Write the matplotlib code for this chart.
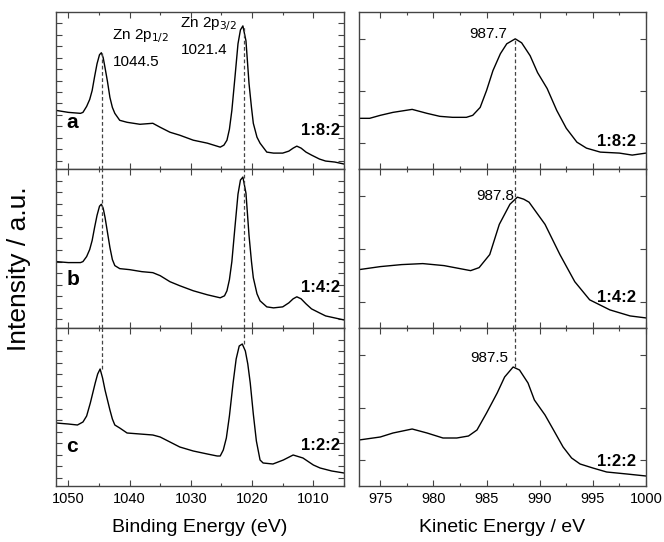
import matplotlib
matplotlib.use("Agg")
import matplotlib.pyplot as plt
from matplotlib.ticker import MultipleLocator, FixedLocator
import numpy as np

plt.rcParams['font.family'] = ['Liberation Sans', 'DejaVu Sans']

# Zn 2p spectra (binding energy / eV, intensity in arbitrary units)
be_a = [1052, 1050, 1048, 1047.6, 1047, 1046.5, 1046.1, 1045.7, 1045.3, 1044.9, 1044.6, 1044.3,
        1044.0, 1043.6, 1043.2, 1042.8, 1042.4, 1041.6, 1040.4, 1038.3, 1036.2, 1035, 1033.4,
        1031.8, 1029.6, 1027.3, 1025.2, 1024.6, 1024.1, 1023.7, 1023.3, 1022.8, 1022.3, 1021.9,
        1021.5, 1021.0, 1020.5, 1020.1, 1019.8, 1019.2, 1018.7, 1017.6, 1016.5, 1015, 1014,
        1013.3, 1012.7, 1012, 1011.2, 1010.3, 1009, 1008, 1006.5, 1005]
int_a = [59, 57, 56, 57, 63, 70, 79, 93, 106, 115, 117, 112,
         102, 88, 72, 62, 56, 49, 47, 45, 46, 42, 37,
         34, 29, 26, 22, 24, 29, 40, 59, 92, 126, 140,
         144, 129, 86, 62, 46, 32, 26, 17, 16, 16, 18,
         21, 23, 21, 17, 14, 10, 8, 7, 5]

be_b = [1052, 1050, 1048, 1047.6, 1047, 1046.5, 1046.1, 1045.7, 1045.3, 1044.9, 1044.6, 1044.3,
        1044.0, 1043.6, 1043.2, 1042.8, 1042.4, 1041.6, 1040, 1038, 1036.2, 1035, 1033.4,
        1031.8, 1029.6, 1027.3, 1025.2, 1024.5, 1024.1, 1023.7, 1023.3, 1022.8, 1022.3, 1021.9,
        1021.5, 1021.0, 1020.5, 1020.1, 1019.8, 1019.2, 1018.7, 1017.6, 1016.5, 1015, 1014,
        1013.3, 1012.7, 1012, 1011.2, 1010.3, 1009, 1008, 1006.5, 1005]
int_b = [66, 65, 65, 66, 71, 78, 87, 100, 112, 121, 123, 119,
         110, 95, 80, 68, 62, 59, 58, 56, 55, 52, 46,
         42, 37, 33, 30, 32, 37, 48, 66, 100, 133, 147,
         150, 134, 92, 66, 50, 34, 27, 21, 20, 21, 25,
         29, 31, 29, 24, 19, 15, 12, 10, 8]

be_c = [1052, 1050, 1048.5, 1047.6, 1047, 1046.4, 1046, 1045.6, 1045.2, 1044.8, 1044.4, 1044.0,
        1043.6, 1043.2, 1042.8, 1042.4, 1041.6, 1040.4, 1038.3, 1036.2, 1035, 1033.4, 1031.8,
        1029.6, 1027.3, 1025.7, 1025.2, 1024.7, 1024.2, 1023.7, 1023.1, 1022.6, 1022.1, 1021.6,
        1021.1, 1020.7, 1020.3, 1019.8, 1019.3, 1018.7, 1018.2, 1016.6, 1014.9, 1013.3, 1011.7,
        1010, 1008.9, 1007, 1005]
int_c = [63, 62, 61, 64, 70, 83, 93, 103, 112, 117, 108, 96,
         86, 76, 67, 61, 58, 53, 52, 51, 49, 44, 39,
         35, 32, 30, 30, 36, 48, 70, 103, 127, 140, 142,
         135, 122, 103, 72, 45, 26, 23, 22, 26, 31, 28,
         21, 18, 15, 13]

# Auger spectra (kinetic energy / eV)
ke_a = [973, 974, 975, 976.2, 978, 979.4, 980.6, 981.8, 983.1, 983.7, 984.4, 985.0, 985.6, 986.3,
        986.9, 987.7, 988.3, 989.1, 989.8, 990.7, 991.6, 992.5, 993.5, 994.4, 995.7, 997.5,
        998.7, 1000]
aug_a = [51, 51, 54, 57, 60, 56, 53, 52, 52, 54, 62, 79, 99, 116,
         126, 131, 127, 114, 97, 81, 59, 41, 27, 21, 17, 16,
         14, 16]

ke_b = [973, 975, 977, 979, 981, 982.5, 983.5, 984.3, 985.3, 986.2, 987.2, 987.9, 988.5, 989,
        990.5, 991.9, 993.3, 994.7, 996.6, 998.5, 1000]
aug_b = [58, 61, 63, 64, 62, 59, 57, 60, 73, 103, 123, 130, 128, 125,
         103, 73, 46, 28, 18, 12, 10]

ke_c = [973, 975, 976.2, 978, 979.4, 980.9, 982.2, 983.3, 984.1, 985, 986, 986.7, 987.5, 988.1,
        988.9, 989.5, 990.5, 991.3, 992.2, 993, 993.8, 995, 996.3, 998.2, 1000]
aug_c = [46, 49, 53, 57, 53, 48, 48, 50, 56, 73, 93, 109, 119, 116,
         103, 86, 71, 56, 39, 28, 22, 18, 14, 12, 10]

ratios = ["1:8:2", "1:4:2", "1:2:2"]
letters = ["a", "b", "c"]
auger_peaks = ["987.7", "987.8", "987.5"]
zn_peaks = [1044.5, 1021.4]
auger_line = 987.7

left_data = [(be_a, int_a), (be_b, int_b), (be_c, int_c)]
right_data = [(ke_a, aug_a), (ke_b, aug_b), (ke_c, aug_c)]

fig = plt.figure(figsize=(6.64, 5.42), dpi=100)
W, H = 664, 542
row_px = [(12, 169), (169, 328), (328, 486)]
spine_col = '#444444'
dash = (0, (3, 2))

axL, axR = [], []
for i, (t, b) in enumerate(row_px):
    aL = fig.add_axes([56 / W, 1 - b / H, 288 / W, (b - t) / H])
    aR = fig.add_axes([359 / W, 1 - b / H, 287 / W, (b - t) / H])
    axL.append(aL)
    axR.append(aR)

for i, ax in enumerate(axL):
    x, y = left_data[i]
    ax.plot(x, y, color='black', lw=1.0)
    ax.set_xlim(1052, 1005)
    ax.set_ylim(0, 158)
    ax.xaxis.set_major_locator(MultipleLocator(10))
    ax.xaxis.set_minor_locator(MultipleLocator(5))
    ax.yaxis.set_major_locator(FixedLocator(np.arange(8.5, 158, 11.5)))
    ax.text(1050.3, [47, 48, 40][i], letters[i], fontsize=15, fontweight='bold', va='center', ha='left')
    ax.text(1005.6, [39, 40, 40][i], ratios[i], fontsize=12, fontweight='bold', va='center', ha='right')
    # dashed guide lines through the Zn 2p peaks
    for e in zn_peaks:
        ix = int(np.argmin(np.abs(np.array(x) - e)))
        ypk = max(y[ix - 1:ix + 2])
        if i == 0:
            ax.plot([e, e], [0, ypk], color=spine_col, lw=0.9, ls=dash)
        elif i == 1:
            ax.plot([e, e], [0, 158], color=spine_col, lw=0.9, ls=dash)
        else:
            ax.plot([e, e], [ypk, 158], color=spine_col, lw=0.9, ls=dash)

for i, ax in enumerate(axR):
    x, y = right_data[i]
    ax.plot(x, y, color='black', lw=1.0)
    ax.set_xlim(973, 1000)
    ax.set_ylim(0, 158)
    ax.xaxis.set_major_locator(MultipleLocator(5))
    ax.xaxis.set_minor_locator(MultipleLocator(2.5))
    ax.yaxis.set_major_locator(FixedLocator([26, 78.5, 131]))
    ax.text(999.1, [28, 30, 25][i], ratios[i], fontsize=12, fontweight='bold', va='center', ha='right')
    ypk = max(y)
    if i == 0:
        ax.plot([auger_line, auger_line], [0, ypk], color=spine_col, lw=0.9, ls=dash)
    elif i == 1:
        ax.plot([auger_line, auger_line], [0, 158], color=spine_col, lw=0.9, ls=dash)
    else:
        ax.plot([auger_line, auger_line], [ypk, 158], color=spine_col, lw=0.9, ls=dash)
    ax.text([986.9, 987.6, 987.0][i], [136, 131, 128][i], auger_peaks[i], fontsize=11,
            va='center', ha='right')

for ax in axL + axR:
    ax.tick_params(which='both', direction='in', top=True, right=True, labelleft=False,
                   color=spine_col, labelsize=10.5, pad=4)
    ax.tick_params(which='major', length=4, width=0.8)
    ax.tick_params(which='minor', length=2, width=0.8)
    for s in ax.spines.values():
        s.set_color(spine_col)
        s.set_linewidth(1.0)

for ax in axL[:2] + axR[:2]:
    ax.tick_params(which='both', labelbottom=False)

# peak labels on the top-left panel
axL[0].text(1042.9, 134, r'Zn 2p$_{1/2}$', fontsize=11, va='center', ha='left')
axL[0].text(1042.7, 108, '1044.5', fontsize=11, va='center', ha='left')
axL[0].text(1031.8, 146, r'Zn 2p$_{3/2}$', fontsize=11, va='center', ha='left')
axL[0].text(1031.6, 120, '1021.4', fontsize=11, va='center', ha='left')

axL[2].set_xlabel('Binding Energy (eV)', fontsize=14, labelpad=10)
axR[2].set_xlabel('Kinetic Energy / eV', fontsize=14, labelpad=10)
fig.text(19 / W, 1 - 269 / H, 'Intensity / a.u.', rotation=90, fontsize=19, va='center', ha='center')

fig.savefig('out.png', dpi=100)
